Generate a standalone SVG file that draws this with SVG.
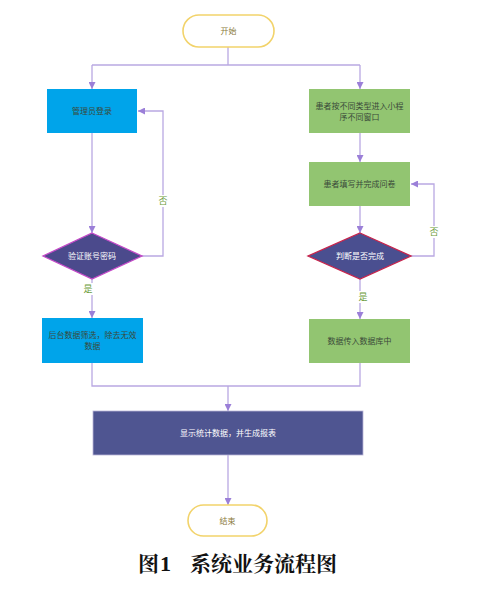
<svg xmlns="http://www.w3.org/2000/svg" width="500" height="593" viewBox="0 0 500 593">
<style>
.t{font-family:"Noto Sans CJK SC","Noto Sans",sans-serif;font-size:8px;text-anchor:middle}
.dk{fill:#3a4a3a}
.wh{fill:#ffffff}
.ln{fill:none;stroke:#b9a8e2;stroke-width:1.3}
.term{fill:#ffffff;stroke:#f2d36b;stroke-width:1.6}
.lbl{fill:#6a9a3a;font-family:"Noto Sans CJK SC",sans-serif;font-size:9px;text-anchor:middle}
.cap{font-family:"Noto Serif CJK SC","Noto Sans CJK SC",serif;font-size:21px;font-weight:bold;fill:#111}
.num{font-family:"Liberation Serif",serif;font-size:22px;font-weight:bold;fill:#111}
</style>
<defs>
<marker id="ar" viewBox="0 0 10 10" refX="10" refY="5" markerWidth="7" markerHeight="7" orient="auto" markerUnits="userSpaceOnUse">
<path d="M0,0 L10,5 L0,10 z" fill="#9b7fd8"/>
</marker>
</defs>
<rect width="500" height="593" fill="#ffffff"/>
<g id="connectors">
<path class="ln" d="M228,47 V65"/>
<path class="ln" d="M92,65 H360"/>
<path class="ln" d="M92,65 V89" marker-end="url(#ar)"/>
<path class="ln" d="M360,65 V89" marker-end="url(#ar)"/>
<path class="ln" d="M92,133 V233" marker-end="url(#ar)"/>
<path class="ln" d="M142,256 H163 V111 H138" marker-end="url(#ar)"/>
<path class="ln" d="M92,279 V318" marker-end="url(#ar)"/>
<path class="ln" d="M360,133 V162" marker-end="url(#ar)"/>
<path class="ln" d="M360,206 V233" marker-end="url(#ar)"/>
<path class="ln" d="M411,256 H434 V184 H411" marker-end="url(#ar)"/>
<path class="ln" d="M360,279 V319" marker-end="url(#ar)"/>
<path class="ln" d="M92,363 V386 H360 V363"/>
<path class="ln" d="M228,386 V411" marker-end="url(#ar)"/>
<path class="ln" d="M228,455 V505" marker-end="url(#ar)"/>
</g>
<g id="edge-labels">
<rect x="157" y="195" width="12" height="12" fill="#ffffff"/>
<text class="lbl" x="163" y="204">否</text>
<rect x="428" y="226" width="12" height="12" fill="#ffffff"/>
<text class="lbl" x="434" y="235">否</text>
<rect x="82" y="283" width="12" height="12" fill="#ffffff"/>
<text class="lbl" x="88" y="292">是</text>
<rect x="357" y="291" width="12" height="12" fill="#ffffff"/>
<text class="lbl" x="363" y="300">是</text>
</g>
<g id="start">
<rect class="term" x="183" y="15" width="91" height="32" rx="16"/>
<text class="t" x="228.5" y="34" fill="#8a7a3a">开始</text>
</g>
<g id="admin-login">
<rect x="47" y="89" width="90" height="44" fill="#00a4ea"/>
<text class="t dk" x="92" y="114">管理员登录</text>
</g>
<g id="verify">
<polygon points="92,233 142,256 92,279 43,256" fill="#4b4a8c" stroke="#c44ac8" stroke-width="1.3"/>
<text class="t wh" x="92" y="259">验证账号密码</text>
</g>
<g id="filter">
<rect x="42" y="318" width="101" height="45" fill="#00a4ea"/>
<text class="t dk" x="92.5" y="338">后台数据筛选，除去无效</text>
<text class="t dk" x="92.5" y="349">数据</text>
</g>
<g id="patient-enter">
<rect x="309" y="89" width="101" height="44" fill="#92c571"/>
<text class="t dk" x="359.5" y="109">患者按不同类型进入小程</text>
<text class="t dk" x="359.5" y="120">序不同窗口</text>
</g>
<g id="questionnaire">
<rect x="309" y="162" width="101" height="44" fill="#92c571"/>
<text class="t dk" x="359.5" y="187">患者填写并完成问卷</text>
</g>
<g id="judge">
<polygon points="360,233 411,256 360,279 308,256" fill="#4a4f90" stroke="#c8244c" stroke-width="1.3"/>
<text class="t wh" x="360" y="259">判断是否完成</text>
</g>
<g id="to-db">
<rect x="309" y="319" width="101" height="44" fill="#92c571"/>
<text class="t dk" x="359.5" y="344">数据传入数据库中</text>
</g>
<g id="report">
<rect x="93" y="411" width="270" height="44" fill="#4f5591" stroke="#b9b4d8" stroke-width="0.8"/>
<text class="t wh" x="228" y="436">显示统计数据，并生成报表</text>
</g>
<g id="end">
<rect class="term" x="188" y="505" width="79" height="31" rx="15.5"/>
<text class="t" x="227.5" y="524" fill="#8a7a3a">结束</text>
</g>
<g id="caption">
<text class="cap" x="138" y="571">图</text>
<text class="num" x="160" y="571">1</text>
<text class="cap" x="190" y="571">系统业务流程图</text>
</g>
</svg>
